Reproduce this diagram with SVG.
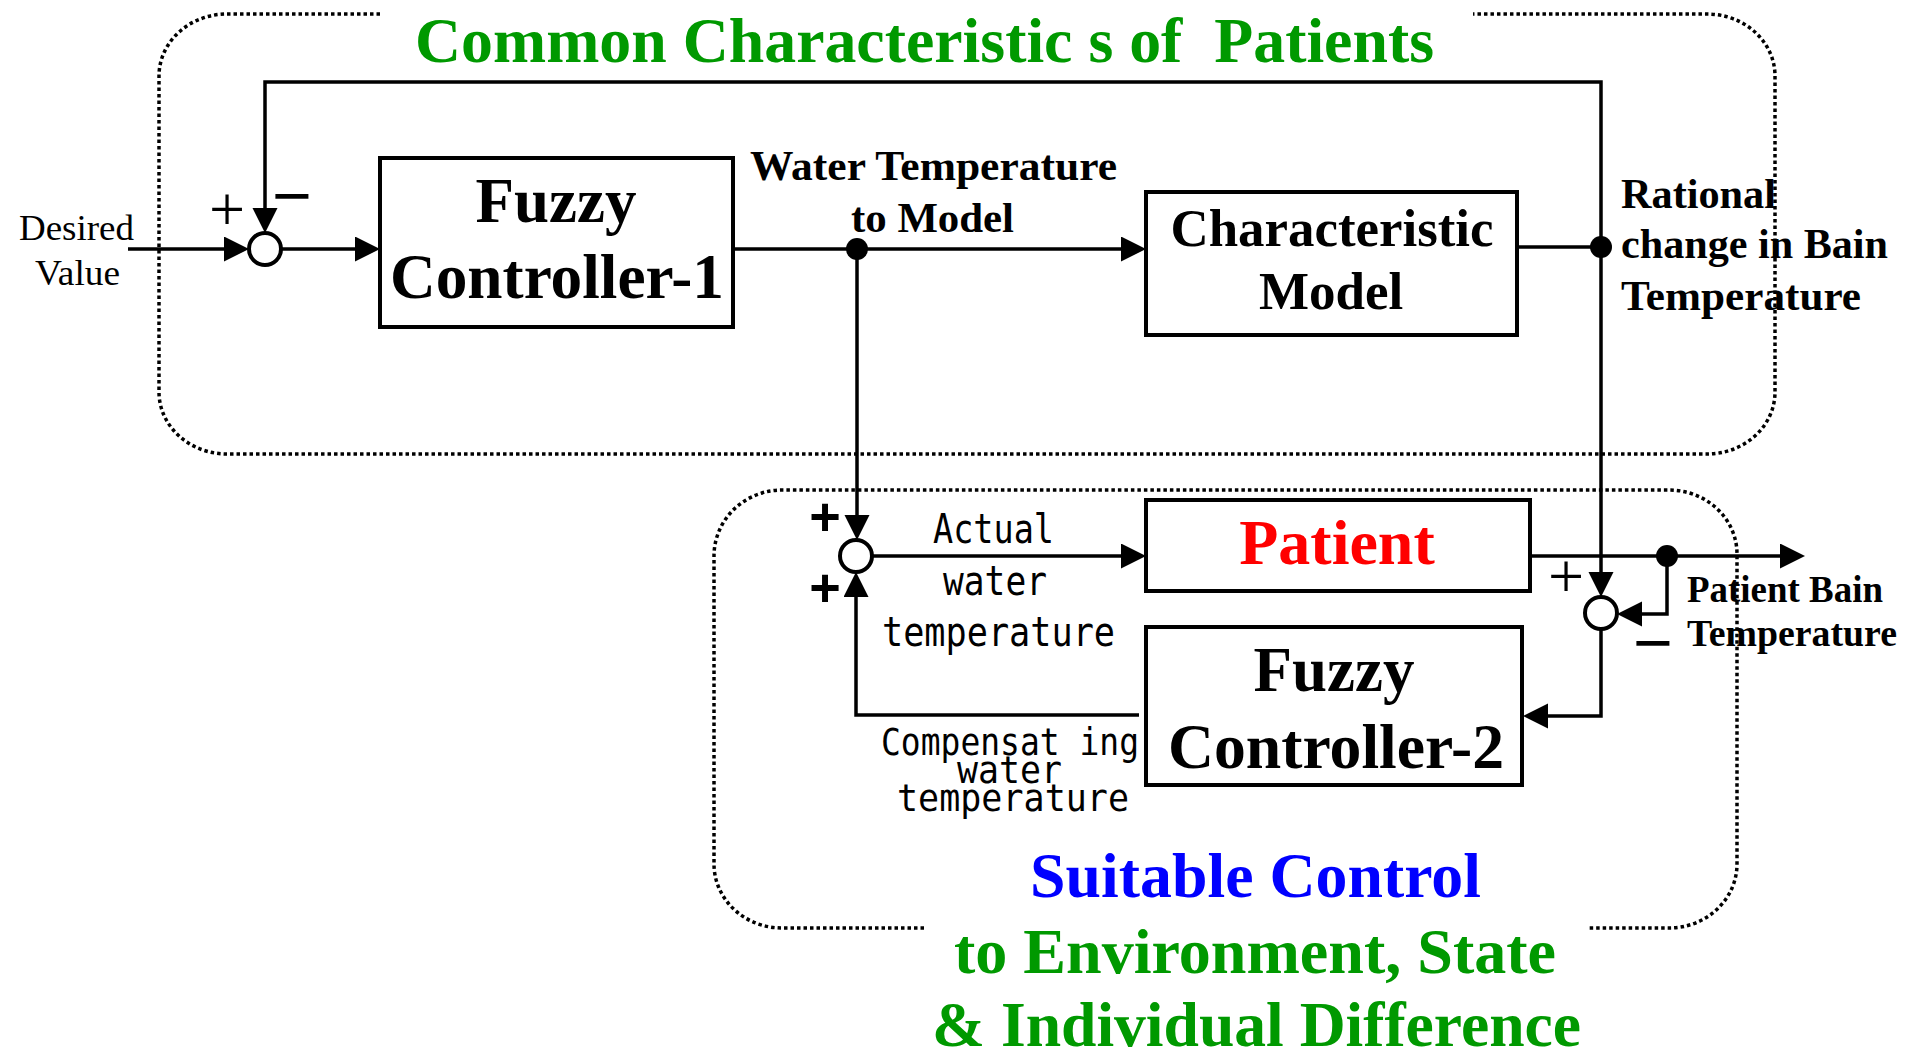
<svg xmlns="http://www.w3.org/2000/svg" width="1914" height="1057" viewBox="0 0 1914 1057">
<style>
.bg{fill:#fff}
.region{fill:none;stroke:#000;stroke-width:3.5;stroke-dasharray:3.5 3}
.box{fill:#fff;stroke:#000;stroke-width:4}
.sum{fill:#fff;stroke:#000;stroke-width:4}
.dot{fill:#000}
.wire{fill:none;stroke:#000;stroke-width:3.5}
.arr{marker-end:url(#ah)}
.big{font-family:"Liberation Serif","Times New Roman",serif;font-weight:bold;fill:#000}
.lbl{font-family:"Liberation Serif","Times New Roman",serif;font-weight:bold;font-size:42px;fill:#000}
.mono{font-family:"DejaVu Sans Mono",monospace;fill:#000}
.reg{font-family:"Liberation Serif","Times New Roman",serif;font-size:36px;fill:#000}
.green{fill:#009900}
.sign{font-family:"Liberation Sans",Arial,sans-serif;fill:#000}
</style>
<defs>
<marker id="ah" markerUnits="userSpaceOnUse" markerWidth="26" markerHeight="26" viewBox="0 0 26 26" refX="20" refY="12.5" orient="auto">
<path d="M0,0 L25,12.5 L0,25 z" fill="#000"/>
</marker>
</defs>
<rect class="bg" x="0" y="0" width="1914" height="1057"/>

<g id="region-common">
<path class="region" d="M380,14 H227 A68,62 0 0 0 159,76 V392 A68,62 0 0 0 227,454 H1707 A68,62 0 0 0 1775,392 V76 A68,62 0 0 0 1707,14 H1473"/>
<text class="big green" x="415" y="62" font-size="63" textLength="1019" lengthAdjust="spacingAndGlyphs" style="white-space:pre">Common Characteristic s of  Patients</text>
</g>

<g id="region-suitable">
<path class="region" d="M924,928 H782 A68,64 0 0 1 714,864 V556 A68,66 0 0 1 782,490 H1669 A68,64 0 0 1 1737,554 V864 A68,64 0 0 1 1669,928 H1587"/>
<text class="big" x="1030" y="897" font-size="63" fill="#0000ff" style="fill:#0000ff" textLength="451" lengthAdjust="spacingAndGlyphs">Suitable Control</text>
<text class="big green" x="954" y="973" font-size="64" textLength="602" lengthAdjust="spacingAndGlyphs">to Environment, State</text>
<text class="big green" x="932" y="1046" font-size="64" textLength="649" lengthAdjust="spacingAndGlyphs">&amp; Individual Difference</text>
</g>

<g id="connectors">
<path class="wire arr" d="M128,249 H244"/>
<path class="wire arr" d="M281,249 H375"/>
<path class="wire arr" d="M733,249 H1141"/>
<path class="wire" d="M1517,247 H1601"/>
<path class="wire arr" d="M1601,247 V82 H265 V228"/>
<path class="wire arr" d="M1601,247 V592"/>
<path class="wire arr" d="M857,249 V535"/>
<path class="wire arr" d="M872,556 H1141"/>
<path class="wire arr" d="M1530,556 H1800"/>
<path class="wire arr" d="M1667,556 V614 H1622"/>
<path class="wire arr" d="M1601,629 V716 H1528"/>
<path class="wire arr" d="M1139,715 H856 V577"/>
<circle class="dot" cx="857" cy="249" r="11"/>
<circle class="dot" cx="1601" cy="247" r="11"/>
<circle class="dot" cx="1667" cy="556" r="11"/>
</g>

<g id="input-label">
<text class="reg" x="19" y="240" textLength="115" lengthAdjust="spacingAndGlyphs">Desired</text>
<text class="reg" x="35" y="285" textLength="85" lengthAdjust="spacingAndGlyphs">Value</text>
</g>

<g id="sum-1">
<circle class="sum" cx="265" cy="249" r="16"/>
<text class="reg" x="227" y="231" font-size="64" text-anchor="middle" style="font-size:64px">+</text>
<text class="sign" x="292" y="219" font-size="68" text-anchor="middle">−</text>
</g>

<g id="fuzzy-controller-1">
<rect class="box" x="380" y="158" width="353" height="169"/>
<text class="big" x="556" y="222" font-size="63" text-anchor="middle">Fuzzy</text>
<text class="big" x="557" y="298" font-size="63" text-anchor="middle" textLength="334" lengthAdjust="spacingAndGlyphs">Controller-1</text>
</g>

<g id="water-temp-label">
<text class="lbl" x="750" y="180" textLength="367" lengthAdjust="spacingAndGlyphs">Water Temperature</text>
<text class="lbl" x="851" y="232" textLength="163" lengthAdjust="spacingAndGlyphs">to Model</text>
</g>

<g id="characteristic-model">
<rect class="box" x="1146" y="192" width="371" height="143"/>
<text class="big" x="1332" y="246" font-size="53" text-anchor="middle" textLength="323" lengthAdjust="spacingAndGlyphs">Characteristic</text>
<text class="big" x="1331" y="309" font-size="53" text-anchor="middle">Model</text>
</g>

<g id="rational-label">
<text class="lbl" x="1621" y="208" textLength="155" lengthAdjust="spacingAndGlyphs">Rational</text>
<text class="lbl" x="1621" y="258" textLength="267" lengthAdjust="spacingAndGlyphs">change in Bain</text>
<text class="lbl" x="1621" y="310" textLength="240" lengthAdjust="spacingAndGlyphs">Temperature</text>
</g>

<g id="sum-2">
<circle class="sum" cx="856" cy="556" r="16"/>
<text class="sign" x="825" y="535" font-size="54" font-weight="bold" text-anchor="middle">+</text>
<text class="sign" x="825" y="606" font-size="54" font-weight="bold" text-anchor="middle">+</text>
</g>

<g id="actual-label">
<text class="mono" x="933" y="543" font-size="40" textLength="121" lengthAdjust="spacingAndGlyphs">Actual</text>
<text class="mono" x="943" y="595" font-size="40" textLength="104" lengthAdjust="spacingAndGlyphs">water</text>
<text class="mono" x="882" y="646" font-size="40" textLength="233" lengthAdjust="spacingAndGlyphs">temperature</text>
</g>

<g id="patient">
<rect class="box" x="1146" y="500" width="384" height="91"/>
<text class="big" x="1337" y="564" font-size="64" text-anchor="middle" style="fill:#ff0000">Patient</text>
</g>

<g id="sum-3">
<circle class="sum" cx="1601" cy="613" r="16"/>
<text class="reg" x="1566" y="598" font-size="64" text-anchor="middle" style="font-size:64px">+</text>
<text class="sign" x="1653" y="666" font-size="68" text-anchor="middle">−</text>
</g>

<g id="patient-bain-label">
<text class="big" x="1687" y="602" font-size="37" textLength="196" lengthAdjust="spacingAndGlyphs">Patient Bain</text>
<text class="big" x="1687" y="646" font-size="37" textLength="210" lengthAdjust="spacingAndGlyphs">Temperature</text>
</g>

<g id="fuzzy-controller-2">
<rect class="box" x="1146" y="627" width="376" height="158"/>
<text class="big" x="1334" y="691" font-size="63" text-anchor="middle">Fuzzy</text>
<text class="big" x="1336" y="768" font-size="63" text-anchor="middle" textLength="336" lengthAdjust="spacingAndGlyphs">Controller-2</text>
</g>

<g id="compensating-label">
<text class="mono" x="881" y="755" font-size="37" textLength="258" lengthAdjust="spacingAndGlyphs">Compensat ing</text>
<text class="mono" x="957" y="783" font-size="37" textLength="105" lengthAdjust="spacingAndGlyphs">water</text>
<text class="mono" x="897" y="811" font-size="37" textLength="232" lengthAdjust="spacingAndGlyphs">temperature</text>
</g>
</svg>
